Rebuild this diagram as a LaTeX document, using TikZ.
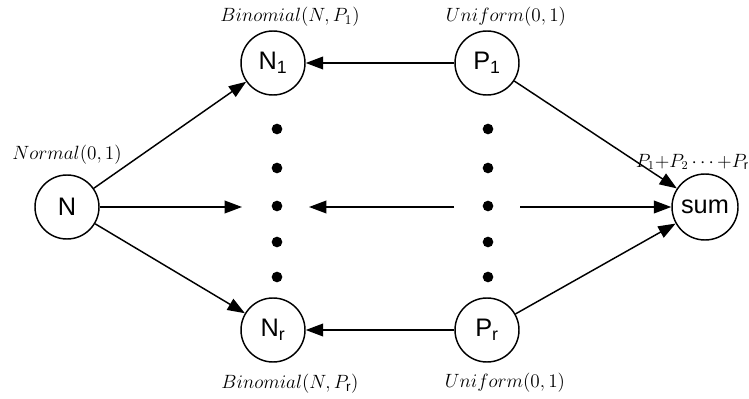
\documentclass[tikz,border=0pt]{standalone}
\usepackage{fontspec}
\setmainfont{Liberation Sans}
\usetikzlibrary{arrows.meta}
\tikzset{
  var/.style={circle, draw, line width=1.1pt, minimum size=48pt, inner sep=0pt,
    font=\fontsize{19}{21}\selectfont},
  link/.style={line width=1.1pt, -{Triangle[length=13pt,width=9.5pt]}},
  dist/.style={font=\fontsize{14.5}{16}\selectfont},
  dot/.style={circle, fill, inner sep=0pt, minimum size=8pt}
}
\begin{document}
\begin{tikzpicture}[x=0.75pt,y=-0.75pt]
\useasboundingbox (0,0) rectangle (749,399);
% random variables
\node[var] (N)  at (67,207)  {N};
\node[var] (N1) at (273,63)  {N\textsubscript{1}};
\node[var] (Nr) at (273,330) {N\textsubscript{r}};
\node[var] (P1) at (487,63)  {P\textsubscript{1}};
\node[var] (Pr) at (487,330) {P\textsubscript{r}};
\node[var, minimum size=49.5pt] (S) at (705,207) {sum};
% distributions
\node[dist] (lN)  at (67,155)  {$Normal(0,1)$};
\node[dist] (lN1) at (290,17)  {$Binomial(N,P_1)$};
\node[dist] (lNr) at (290,384) {$Binomial(N,P_{\mathrm{r}})$};
\node[dist] (lP1) at (506,17)  {$Uniform(0,1)$};
\node[dist] (lPr) at (505,383) {$Uniform(0,1)$};
\node[dist, font=\fontsize{13.5}{15}\selectfont, anchor=east, inner sep=0pt]
  (lS) at (749,162) {$P_1{+}P_2\,{\cdots}\,{+}P_{\mathrm{r}}$};
% elided middle variables
\foreach \yy [count=\i] in {129,168,206,242,277} {
  \node[dot] (dl\i) at (277,\yy) {};
  \node[dot] (dr\i) at (488,\yy) {};
}
\coordinate (m1) at (242,207);
\coordinate (m2) at (454,207);
\coordinate (m3) at (309,207);
\coordinate (m4) at (520,207);
% dependencies
\draw[link] (N) -- (N1);
\draw[link] (N) -- (Nr);
\draw[link] (N) -- (m1);
\draw[link] (P1) -- (N1);
\draw[link] (Pr) -- (Nr);
\draw[link] (m2) -- (m3);
\draw[link] (P1) -- (S);
\draw[link] (Pr) -- (S);
\draw[link] (m4) -- (S);
\end{tikzpicture}
\end{document}
